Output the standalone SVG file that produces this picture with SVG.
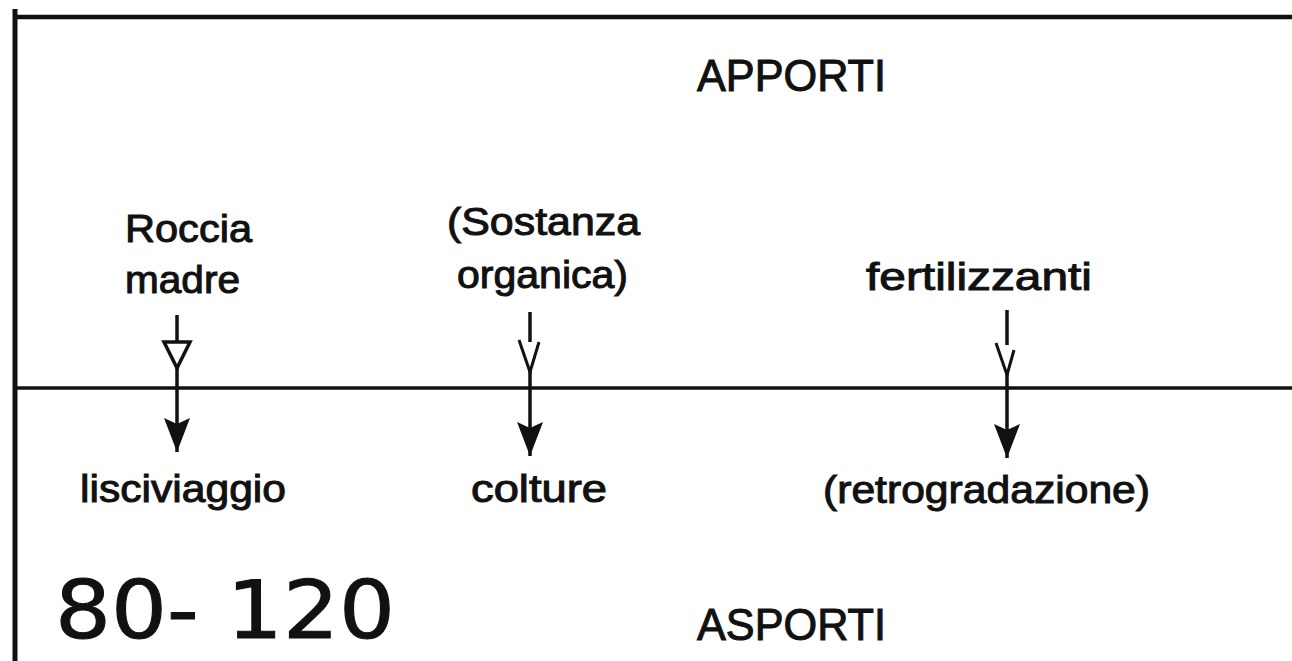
<svg xmlns="http://www.w3.org/2000/svg" width="1292" height="661" viewBox="0 0 1292 661">
<style>
  .lbl { font-family: "Liberation Sans", Arial, sans-serif; fill: #111; stroke: #111; stroke-width: 1; }
  .frame { stroke: #111; fill: none; }
  .conn { stroke: #111; stroke-width: 3.5; fill: none; }
  .hand { font-family: "DejaVu Sans", "Liberation Sans", sans-serif; fill: #111; stroke: #111; stroke-width: 1; }
</style>
<defs>
  <marker id="fillHead" viewBox="0 0 26 34" refX="13" refY="34" markerWidth="26" markerHeight="34" markerUnits="userSpaceOnUse">
    <path d="M0,0 L13,6 L26,0 L13,34 Z" fill="#111"/>
  </marker>
</defs>
<rect width="1292" height="661" fill="#fff"/>
<g id="frame">
  <line class="frame" x1="15" y1="17" x2="1292" y2="17" stroke-width="4.5"/>
  <line class="frame" x1="15" y1="9" x2="15" y2="661" stroke-width="5"/>
  <line class="frame" x1="15" y1="388" x2="1292" y2="388" stroke-width="3.5"/>
</g>
<g id="connectors">
  <path class="conn" d="M177,315 V342"/>
  <path d="M164,342 L190,342 L177,368 Z" fill="#fff" stroke="#111" stroke-width="3.5"/>
  <path class="conn" d="M177,368 V452" marker-end="url(#fillHead)"/>
  <path class="conn" d="M530,312 V342" stroke-width="2"/>
  <path d="M519,340 L530,372 L539,342" fill="none" stroke="#111" stroke-width="3"/>
  <path class="conn" d="M530,370 V456" marker-end="url(#fillHead)"/>
  <path class="conn" d="M1007,310 V345" stroke-width="2.5"/>
  <path d="M996,343 L1007,375 L1014,350" fill="none" stroke="#111" stroke-width="3"/>
  <path class="conn" d="M1007,373 V458" marker-end="url(#fillHead)"/>
</g>
<g id="apporti"><text class="lbl" x="697" y="91" font-size="44" textLength="189" lengthAdjust="spacingAndGlyphs">APPORTI</text></g>
<g id="roccia">
  <text class="lbl" x="125" y="242" font-size="38" textLength="127" lengthAdjust="spacingAndGlyphs">Roccia</text>
  <text class="lbl" x="125" y="293" font-size="38" textLength="115" lengthAdjust="spacingAndGlyphs">madre</text>
</g>
<g id="sostanza">
  <text class="lbl" x="447" y="235" font-size="38" textLength="193" lengthAdjust="spacingAndGlyphs">(Sostanza</text>
  <text class="lbl" x="457" y="288" font-size="38" textLength="171" lengthAdjust="spacingAndGlyphs">organica)</text>
</g>
<g id="fertilizzanti"><text class="lbl" x="866" y="290" font-size="38" textLength="226" lengthAdjust="spacingAndGlyphs">fertilizzanti</text></g>
<g id="lisciviaggio"><text class="lbl" x="80" y="502" font-size="38" textLength="206" lengthAdjust="spacingAndGlyphs">lisciviaggio</text></g>
<g id="colture"><text class="lbl" x="471" y="502" font-size="38" textLength="136" lengthAdjust="spacingAndGlyphs">colture</text></g>
<g id="retrogradazione"><text class="lbl" x="823" y="503" font-size="38" textLength="327" lengthAdjust="spacingAndGlyphs">(retrogradazione)</text></g>
<g id="asporti"><text class="lbl" x="697" y="640" font-size="44" textLength="189" lengthAdjust="spacingAndGlyphs">ASPORTI</text></g>
<g id="note"><text class="hand" x="55" y="638" font-size="80" textLength="340" lengthAdjust="spacingAndGlyphs">80- 120</text></g>
</svg>
